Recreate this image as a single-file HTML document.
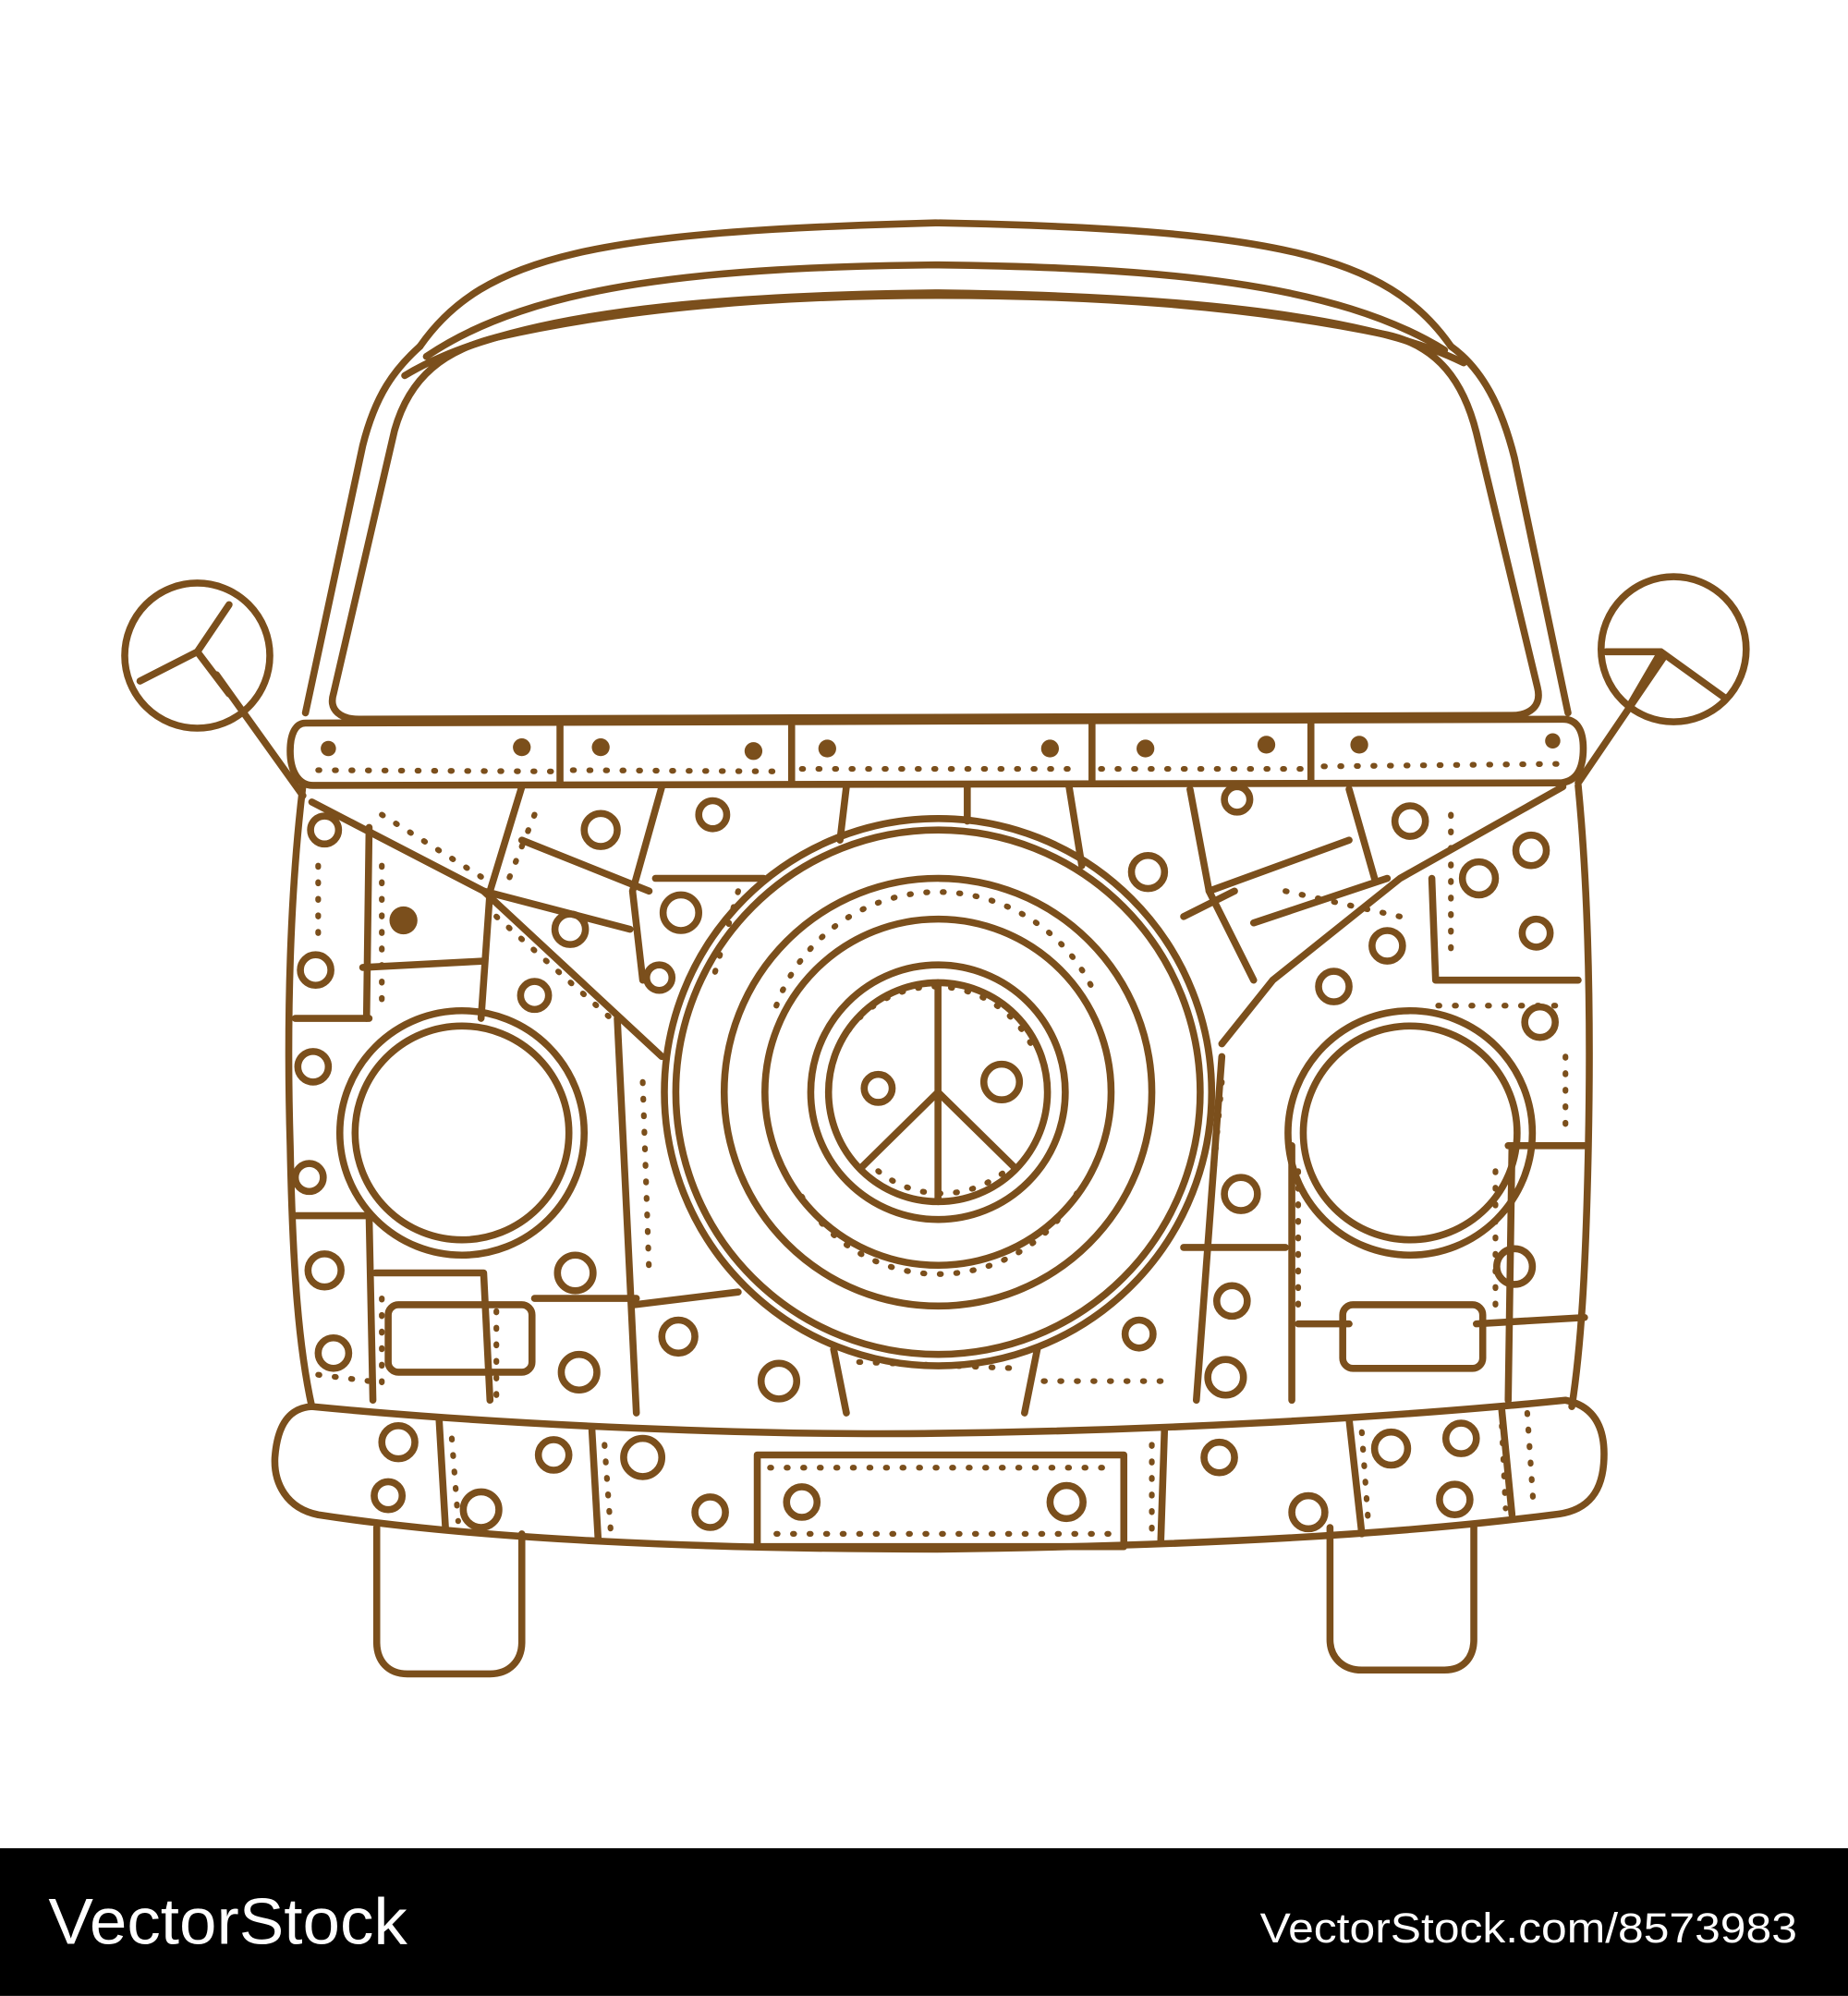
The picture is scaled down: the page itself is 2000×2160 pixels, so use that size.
<!DOCTYPE html>
<html><head><meta charset="utf-8"><style>
html,body{margin:0;padding:0;background:#fff}
svg{display:block}
</style></head><body>
<svg width="2000" height="2160" viewBox="0 0 1452 1568" xmlns="http://www.w3.org/2000/svg">
<rect width="1452" height="1568" fill="#fff"/>
<g fill="none" stroke="#7b4f1c" stroke-width="5.5" stroke-linecap="round" stroke-linejoin="round">
<path d="M330,272 C380,200 470,182 735,175 C1000,180 1090,200 1140,272"/>
<path d="M335,280 C420,222 560,210 735,208 C910,210 1050,222 1135,275"/>
<path d="M318,295 C400,245 560,232 735,230 C910,232 1070,245 1150,285"/>
<path d="M330,272 C310,290 295,310 285,350 L240,560"/>
<path d="M1140,272 C1165,290 1180,320 1190,360 L1232,560"/>
<path d="M262,545 L310,338 C322,295 350,275 390,265 C500,240 620,232 737,232 C860,232 980,240 1090,263 C1130,272 1150,300 1160,340 L1208,540 C1212,556 1200,562 1188,562 L282,565 C268,565 258,558 262,545 Z"/>
<path d="M240,568 L1228,565 C1240,565 1244,575 1244,588 C1244,605 1238,614 1226,615 L246,617 C234,617 228,605 228,590 C228,577 232,568 240,568 Z"/>
<line x1="440" y1="570" x2="440" y2="614"/><line x1="622" y1="570" x2="622" y2="614"/>
<line x1="858" y1="568" x2="858" y2="614"/><line x1="1030" y1="568" x2="1030" y2="614"/>
<path d="M238,617 C228,700 225,800 228,900 C230,1000 235,1060 245,1105"/>
<path d="M1240,617 C1248,700 1250,800 1248,900 C1246,1000 1242,1060 1235,1105"/>
<circle cx="155" cy="515" r="57"/>
<circle cx="1315" cy="510" r="57"/>
<line x1="170" y1="530" x2="238" y2="625"/>
<line x1="1308" y1="515" x2="1240" y2="615"/>
<path d="M110,535 L155,512 L180,475 M155,512 L180,545"/>
<path d="M1262,512 L1305,512 L1355,548 M1305,512 L1280,555"/>
<path d="M245,630 L380,700 L520,830"/>
<path d="M1228,618 L1100,690 L1000,770 L960,820"/>
<path d="M410,618 L385,700 L378,800"/><path d="M520,618 L497,700 L505,770"/>
<path d="M665,618 L660,660"/><path d="M760,618 L760,645"/><path d="M840,618 L850,680"/>
<path d="M935,620 L950,700 L985,770"/><path d="M1060,620 L1080,690"/>
<path d="M380,700 L495,730"/><path d="M410,660 L510,700"/><path d="M515,690 L600,690"/>
<path d="M290,650 L288,800"/><path d="M232,800 L290,800"/><path d="M285,760 L380,755"/>
<path d="M950,700 L1060,660"/><path d="M985,725 L1090,690"/><path d="M1125,690 L1128,770 L1240,770"/>
<path d="M930,720 L970,700"/>
<path d="M232,955 L290,955 L293,1100"/><path d="M1185,900 L1245,900"/><path d="M1188,900 L1185,1100"/>
<path d="M485,800 L500,1110"/><path d="M960,830 L940,1100"/>
<path d="M295,1000 L380,1000 L385,1100"/><path d="M420,1020 L500,1020"/>
<path d="M1015,900 L1015,1100"/><path d="M930,980 L1010,980"/>
<path d="M498,1025 L580,1015"/><path d="M655,1060 L665,1110"/><path d="M815,1060 L805,1110"/>
<path d="M1020,1040 L1060,1040"/><path d="M1160,1040 L1245,1035"/>
<circle cx="737" cy="858" r="215"/>
<circle cx="737" cy="858" r="206"/>
<circle cx="737" cy="858" r="168"/>
<circle cx="737" cy="858" r="136"/>
<circle cx="737" cy="858" r="100"/>
<circle cx="737" cy="858" r="86"/>
<path d="M737,772 L737,944 M737,858 L676,918 M737,858 L798,918"/>
<circle cx="363" cy="890" r="96"/><circle cx="363" cy="890" r="84"/>
<circle cx="1108" cy="890" r="96"/><circle cx="1108" cy="890" r="84"/>
<rect x="305" y="1025" width="113" height="53" rx="8"/>
<rect x="1055" y="1025" width="110" height="50" rx="8"/>
<path d="M245,1105 C400,1120 600,1128 737,1126 C900,1124 1080,1115 1230,1100 C1255,1105 1262,1125 1260,1150 C1258,1175 1245,1188 1220,1190 C1080,1208 900,1215 737,1217 C560,1217 380,1210 250,1190 C225,1185 215,1165 216,1145 C218,1118 228,1106 245,1105 Z"/>
<rect x="595" y="1143" width="288" height="72"/>
<line x1="345" y1="1115" x2="350" y2="1200"/><line x1="465" y1="1122" x2="470" y2="1210"/>
<line x1="915" y1="1122" x2="912" y2="1212"/><line x1="1060" y1="1115" x2="1070" y2="1205"/>
<line x1="1180" y1="1108" x2="1188" y2="1190"/>
<path d="M296,1200 L296,1290 C296,1305 305,1315 320,1315 L385,1315 C400,1315 410,1305 410,1290 L410,1205"/>
<path d="M1045,1200 L1045,1288 C1045,1302 1055,1312 1070,1312 L1135,1312 C1150,1312 1158,1302 1158,1288 L1158,1200"/>
</g>
<g fill="none" stroke="#7b4f1c" stroke-width="5.5">
<circle cx="255" cy="652" r="11"/><circle cx="472" cy="652" r="13"/><circle cx="560" cy="640" r="11"/>
<circle cx="448" cy="730" r="12"/><circle cx="535" cy="717" r="14"/><circle cx="518" cy="768" r="10"/>
<circle cx="420" cy="782" r="11"/><circle cx="248" cy="762" r="12"/><circle cx="246" cy="838" r="12"/>
<circle cx="243" cy="925" r="11"/><circle cx="255" cy="998" r="13"/><circle cx="262" cy="1063" r="12"/>
<circle cx="452" cy="1000" r="14"/><circle cx="455" cy="1078" r="14"/><circle cx="533" cy="1050" r="13"/>
<circle cx="612" cy="1085" r="14"/><circle cx="895" cy="1048" r="11"/><circle cx="968" cy="1022" r="12"/>
<circle cx="963" cy="1082" r="14"/><circle cx="975" cy="938" r="13"/><circle cx="902" cy="685" r="13"/>
<circle cx="972" cy="628" r="10"/><circle cx="1108" cy="645" r="12"/><circle cx="1203" cy="668" r="12"/>
<circle cx="1162" cy="690" r="13"/><circle cx="1207" cy="733" r="11"/><circle cx="1090" cy="743" r="12"/>
<circle cx="1048" cy="775" r="12"/><circle cx="1210" cy="803" r="12"/><circle cx="1190" cy="995" r="14"/>
<circle cx="690" cy="855" r="11"/><circle cx="787" cy="850" r="14"/>
<circle cx="313" cy="1133" r="13"/><circle cx="305" cy="1175" r="11"/><circle cx="378" cy="1186" r="14"/>
<circle cx="435" cy="1143" r="12"/><circle cx="505" cy="1145" r="15"/><circle cx="558" cy="1188" r="12"/>
<circle cx="630" cy="1180" r="12"/><circle cx="838" cy="1180" r="13"/><circle cx="958" cy="1145" r="12"/>
<circle cx="1028" cy="1188" r="13"/><circle cx="1093" cy="1138" r="13"/><circle cx="1148" cy="1130" r="12"/>
<circle cx="1143" cy="1178" r="12"/>
</g>
<g fill="#7b4f1c">
<circle cx="317" cy="723" r="11"/><circle cx="258" cy="588" r="6"/><circle cx="410" cy="587" r="7"/>
<circle cx="472" cy="587" r="7"/><circle cx="592" cy="590" r="7"/><circle cx="650" cy="588" r="7"/>
<circle cx="825" cy="588" r="7"/><circle cx="900" cy="588" r="7"/><circle cx="995" cy="585" r="7"/>
<circle cx="1068" cy="585" r="7"/><circle cx="1220" cy="582" r="6"/>
</g>
<g fill="none" stroke="#7b4f1c" stroke-width="4.5" stroke-dasharray="1 12" stroke-linecap="round">
<path d="M250,605 L435,606 M450,605 L615,606 M630,604 L850,604 M865,604 L1025,604 M1040,602 L1232,600"/>
<path d="M300,640 L380,690 M420,640 L400,690 M300,680 L300,790 M390,720 L480,800"/>
<path d="M580,700 L560,770 M1140,640 L1140,750 M1010,700 L1100,720 M1130,790 L1230,790"/>
<path d="M250,680 L250,740 M1230,830 L1230,890 M300,1020 L300,1090 M390,1030 L390,1100"/>
<path d="M505,850 L510,1000 M960,850 L950,960 M1020,920 L1020,1030 M1175,920 L1175,1030"/>
<path d="M605,1153 L875,1153 M610,1205 L875,1205 M475,1135 L480,1205 M905,1135 L905,1205"/>
<path d="M355,1130 L360,1195 M1180,1120 L1183,1185 M1070,1125 L1075,1195 M1200,1110 L1205,1185"/>
<path d="M610,790 A135 135 0 0 1 860,780 M630,940 A125 125 0 0 0 850,930"/>
<path d="M660,820 A85 85 0 0 1 810,820 M690,920 A80 80 0 0 0 790,920"/>
<path d="M675,1070 L800,1075 M820,1085 L920,1085 M250,1080 L290,1085"/>
</g>
<rect x="0" y="1452" width="1452" height="116" fill="#000"/>
<text x="38" y="1527" fill="#fff" font-family="Liberation Sans, sans-serif" font-size="51" textLength="282" lengthAdjust="spacingAndGlyphs">VectorStock</text>
<text x="990" y="1526" fill="#fff" font-family="Liberation Sans, sans-serif" font-size="33" textLength="422" lengthAdjust="spacingAndGlyphs">VectorStock.com/8573983</text>
</svg>
</body></html>
